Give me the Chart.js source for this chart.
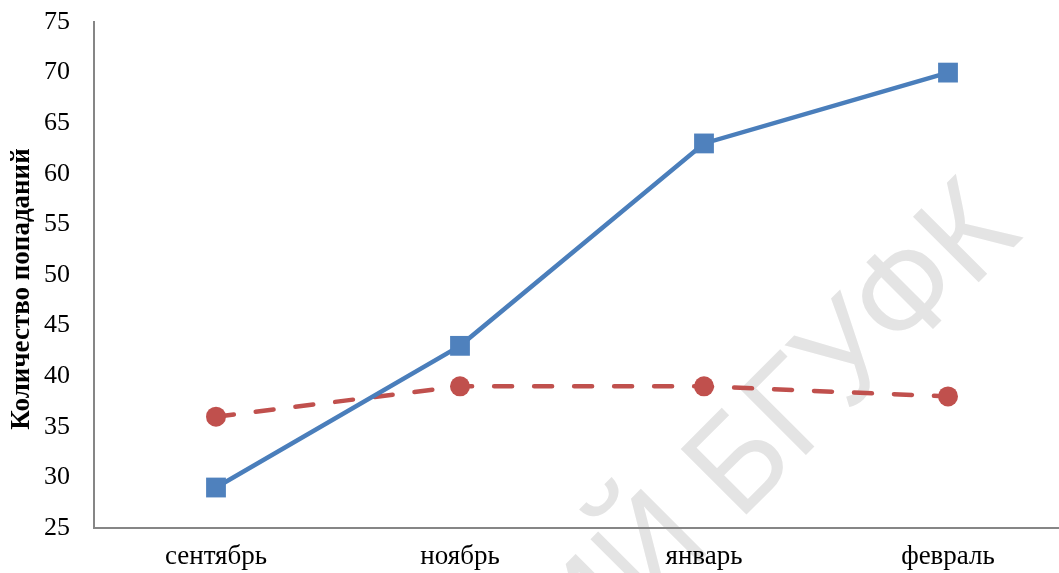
<!DOCTYPE html>
<html>
<head>
<meta charset="utf-8">
<script src="https://cdn.jsdelivr.net/npm/chart.js@4/dist/chart.umd.min.js"></script>
<style>
  html, body { margin: 0; padding: 0; background: #ffffff; overflow: hidden; }
  canvas { display: block; }
</style>
</head>
<body>
<canvas id="chart" width="1084" height="573"></canvas>
<script>
// Months and hit counts for the two series
const months = ['сентябрь', 'ноябрь', 'январь', 'февраль'];
const seriesA = [29, 43, 63, 70];
const seriesB = [36, 39, 39, 38];
const yTicks = [25, 30, 35, 40, 45, 50, 55, 60, 65, 70, 75];
const yTitle = 'Количество попаданий';
const stampText = 'РЕПОЗИТОРИЙ БГУФК';

const serif = '"Liberation Serif", "Times New Roman", serif';
const axisGrey = '#868686';

// Faint diagonal stamp behind the plot, plus the rotated axis title
const decorations = {
  id: 'decorations',
  beforeDraw(chart) {
    const ctx = chart.ctx;
    ctx.save();
    ctx.translate(1024, 237);
    ctx.rotate(-Math.PI / 4);
    ctx.scale(0.95, 1);
    ctx.font = '135px "Liberation Sans", Arial, sans-serif';
    ctx.fillStyle = '#e4e4e4';
    ctx.textAlign = 'right';
    ctx.textBaseline = 'alphabetic';
    ctx.fillText(stampText, 0, 0);
    ctx.restore();

    ctx.save();
    ctx.translate(22, 289);
    ctx.rotate(-Math.PI / 2);
    ctx.font = 'bold 27px ' + serif;
    ctx.fillStyle = '#000000';
    ctx.textAlign = 'center';
    ctx.textBaseline = 'middle';
    ctx.fillText(yTitle, 0, 0);
    ctx.restore();
  }
};

new Chart(document.getElementById('chart'), {
  type: 'line',
  data: {
    labels: months,
    datasets: [
      {
        data: seriesA,
        borderColor: '#4A7EBB',
        backgroundColor: '#4F81BD',
        borderWidth: 4.5,
        pointStyle: 'rect',
        pointRadius: 14,
        pointBorderWidth: 0,
        pointBackgroundColor: '#4F81BD',
        tension: 0
      },
      {
        data: seriesB,
        borderColor: '#C0504D',
        backgroundColor: '#C0504D',
        borderWidth: 4.5,
        borderDash: [18, 22],
        borderCapStyle: 'round',
        pointStyle: 'circle',
        pointRadius: 10,
        pointBorderWidth: 0,
        pointBackgroundColor: '#C0504D',
        tension: 0
      }
    ]
  },
  options: {
    responsive: false,
    animation: false,
    events: [],
    layout: { padding: { top: 22, right: 0, bottom: 0, left: 0 } },
    plugins: {
      legend: { display: false },
      tooltip: { enabled: false },
      title: { display: false }
    },
    scales: {
      x: {
        type: 'category',
        offset: true,
        grid: { display: false, drawTicks: false },
        border: { display: true, color: axisGrey, width: 2 },
        ticks: {
          color: '#000000',
          font: { family: serif, size: 27 },
          padding: 13,
          maxRotation: 0,
          autoSkip: false
        },
        afterFit(scale) {
          scale.height = 45;
          scale.paddingLeft = 0;
          scale.paddingRight = 0;
        }
      },
      y: {
        min: 25,
        max: 75,
        grid: { display: false, drawTicks: false },
        border: { display: true, color: axisGrey, width: 2 },
        afterBuildTicks(scale) { scale.ticks = yTicks.map(v => ({ value: v })); },
        ticks: {
          color: '#000000',
          font: { family: serif, size: 26 },
          padding: 24
        },
        afterFit(scale) {
          scale.width = 94;
          scale.paddingTop = 0;
          scale.paddingBottom = 0;
        }
      }
    }
  },
  plugins: [decorations]
});
</script>
</body>
</html>
